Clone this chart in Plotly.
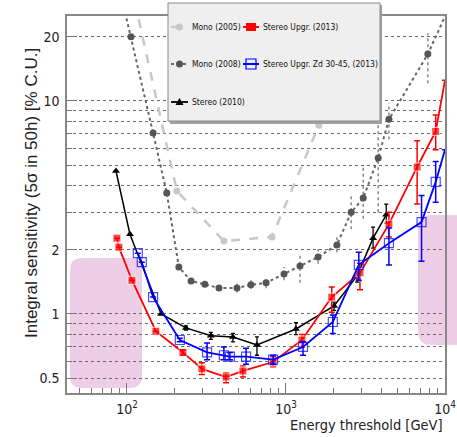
import plotly.graph_objects as go

# ---------------- data ----------------
mono05_E = [100, 206, 407, 817, 1610, 2100]
mono05_S = [42.8, 3.78, 2.20, 2.30, 7.7, 13.0]

mono08_E = [90, 106, 146, 178, 212, 253, 309, 379, 492, 602, 750, 972, 1225, 1592, 2090, 2570, 3060, 3800, 4440, 7800, 11600]
mono08_S = [33.5, 20, 7.07, 3.70, 1.66, 1.43, 1.38, 1.325, 1.325, 1.37, 1.40, 1.54, 1.68, 1.85, 2.11, 3.0, 3.5, 5.4, 8.2, 16.6, 31.8]
mono08_lo = [None, None, None, None, None, None, None, None, 1.26, 1.31, 1.32, 1.44, 1.40, 1.72, 1.95, 2.5, 2.8, 3.0, 6.6, 12.1, None]
mono08_hi = [None, None, None, None, None, None, None, None, 1.40, 1.44, 1.50, 1.66, 1.93, 2.02, 2.30, 3.7, 4.9, 8.4, 9.8, 20.8, None]

stereo10_E = [85.3, 104.4, 164, 235, 337, 464, 657, 1155, 2005, 2800, 3530, 4270]
stereo10_S = [4.69, 2.37, 1.0, 0.86, 0.79, 0.78, 0.715, 0.85, 1.09, 1.51, 2.27, 2.92]
stereo10_lo = [4.69, 2.37, 1.0, 0.84, 0.76, 0.74, 0.64, 0.80, 1.04, 1.41, 2.04, 2.67]
stereo10_hi = [4.69, 2.37, 1.0, 0.88, 0.82, 0.81, 0.78, 0.91, 1.14, 1.57, 2.56, 3.28]

upgr_E = [86.5, 89, 107.5, 152, 225, 296, 420, 536, 830, 1260, 1940, 2920, 4440, 6680, 8740, 10000]
upgr_S = [2.27, 2.06, 1.44, 0.83, 0.66, 0.552, 0.506, 0.54, 0.595, 0.755, 1.20, 1.56, 2.64, 4.9, 7.2, 12.5]
upgr_lo = [2.27, 2.06, 1.44, 0.83, 0.64, 0.52, 0.475, 0.506, 0.565, 0.70, 1.02, 1.30, 2.30, 3.28, 5.9, 12.5]
upgr_hi = [2.27, 2.06, 1.44, 0.83, 0.68, 0.59, 0.53, 0.57, 0.63, 0.80, 1.34, 1.73, 3.00, 6.5, 8.6, 12.5]

zd_E = [117, 124, 146, 215, 319, 407, 444, 561, 830, 1280, 1970, 2870, 4440, 7120, 8740, 10000]
zd_S = [1.93, 1.75, 1.20, 0.755, 0.66, 0.64, 0.63, 0.63, 0.61, 0.70, 0.917, 1.70, 2.15, 2.70, 4.17, 5.9]
zd_lo = [1.93, 1.75, 1.20, 0.74, 0.61, 0.61, 0.61, 0.58, 0.58, 0.64, 0.81, 1.44, 1.70, 1.77, 3.35, 5.9]
zd_hi = [1.93, 1.75, 1.20, 0.77, 0.73, 0.70, 0.66, 0.69, 0.64, 0.74, 0.99, 1.95, 2.53, 3.60, 5.2, 5.9]

series_names = ["Mono (2005)", "Mono (2008)", "Stereo (2010)", "Stereo Upgr. (2013)", "Stereo Upgr. Zd 30-45, (2013)"]

y_ticks = [0.5, 1, 2, 10, 20]
y_ticktext = ["0.5", "1", "2", "10", "20"]
y_grid_minor = [0.6, 0.7, 0.8, 0.9, 3, 4, 5, 6, 7, 8, 9]
x_ticks = [100, 1000, 10000]
x_ticktext = ["10<sup>2</sup>", "10<sup>3</sup>", "10<sup>4</sup>"]
x_minor = [m * d for d in (10, 100, 1000) for m in range(2, 10)]

FONT = "DejaVu Sans Condensed, Liberation Sans Narrow, Arial Narrow, Liberation Sans, Arial"

C_M05, C_M08, C_M08M, C_ST, C_UP, C_ZD = "#c8c8c8", "#666666", "#555555", "black", "#ff0000", "#0000ff"


def err(S, lo, hi):
    plus = [None if h is None else h - s for s, h in zip(S, hi)]
    minus = [None if l is None else s - l for s, l in zip(S, lo)]
    return plus, minus


fig = go.Figure()

fig.add_trace(go.Scatter(x=mono05_E, y=mono05_S, mode="lines+markers", name=series_names[0],
                         line=dict(color=C_M05, width=2.5, dash="dash"),
                         marker=dict(symbol="circle", size=7, color=C_M05)))

ex, ey = [], []
for e, l, h in zip(mono08_E, mono08_lo, mono08_hi):
    if l is None:
        continue
    ex += [e, e, None]
    ey += [l, h, None]
fig.add_trace(go.Scatter(x=ex, y=ey, mode="lines", hoverinfo="skip",
                         line=dict(color="#888888", width=1.5, dash="dot")))
fig.add_trace(go.Scatter(x=mono08_E, y=mono08_S, mode="lines+markers", name=series_names[1],
                         line=dict(color=C_M08, width=2, dash="dot"),
                         marker=dict(symbol="circle", size=7, color=C_M08M)))

p, m = err(stereo10_S, stereo10_lo, stereo10_hi)
fig.add_trace(go.Scatter(x=stereo10_E, y=stereo10_S, mode="lines+markers", name=series_names[2],
                         line=dict(color=C_ST, width=1.5),
                         marker=dict(symbol="triangle-up", size=7, color=C_ST),
                         error_y=dict(type="data", symmetric=False, array=p, arrayminus=m,
                                      color=C_ST, thickness=1.3, width=2)))

p, m = err(upgr_S, upgr_lo, upgr_hi)
fig.add_trace(go.Scatter(x=upgr_E, y=upgr_S, mode="lines+markers", name=series_names[3],
                         line=dict(color=C_UP, width=1.8),
                         marker=dict(symbol="square", size=[8] * (len(upgr_E) - 1) + [0], color=C_UP),
                         error_y=dict(type="data", symmetric=False, array=p, arrayminus=m,
                                      color=C_UP, thickness=1.5, width=3)))

p, m = err(zd_S, zd_lo, zd_hi)
fig.add_trace(go.Scatter(x=zd_E, y=zd_S, mode="lines+markers", name=series_names[4],
                         line=dict(color=C_ZD, width=1.8),
                         marker=dict(symbol="square-open", size=[9] * (len(zd_E) - 1) + [0],
                                     color=C_ZD, line=dict(width=1.2)),
                         error_y=dict(type="data", symmetric=False, array=p, arrayminus=m,
                                      color=C_ZD, thickness=1.5, width=3)))

# ---------------- layout ----------------
L, R, T, B = 67, 12, 16, 44
W, H = 457, 437
pw, ph = W - L - R, H - T - B


def px(xp):
    return (xp - L) / pw


def py(yp):
    return (H - B - yp) / ph


pink = "rgba(222,165,210,0.55)"


def rounded(x0, y0, x1, y1, r):
    X0, X1 = px(x0), px(x1)
    Y0, Y1 = py(y0), py(y1)
    rx, ry = r / pw, r / ph
    return (f"M {X0+rx},{Y0} L {X1-rx},{Y0} Q {X1},{Y0} {X1},{Y0-ry} "
            f"L {X1},{Y1+ry} Q {X1},{Y1} {X1-rx},{Y1} L {X0+rx},{Y1} "
            f"Q {X0},{Y1} {X0},{Y1+ry} L {X0},{Y0-ry} Q {X0},{Y0} {X0+rx},{Y0} Z")


shapes = [
    dict(type="path", xref="paper", yref="paper", path=rounded(70, 258, 142, 388, 12),
         fillcolor=pink, line=dict(width=0), layer="below"),
    dict(type="path", xref="paper", yref="paper", path=rounded(418, 215, 480, 345, 14),
         fillcolor=pink, line=dict(width=0), layer="below"),
    # legend box shadow and box
    dict(type="rect", xref="paper", yref="paper", x0=px(170), x1=px(382), y0=py(124), y1=py(5),
         fillcolor="#a0a0a0", line=dict(width=0), layer="above"),
    dict(type="rect", xref="paper", yref="paper", x0=px(168), x1=px(380), y0=py(121), y1=py(3),
         fillcolor="#efefef", line=dict(color="#8a8a8a", width=1), layer="above"),
]

annotations = [
    dict(text="Integral sensitivity (5σ in 50h) [% C.U.]", xref="paper", yref="paper",
         x=px(32), y=py(193), textangle=-90, showarrow=False, xanchor="center", yanchor="middle",
         font=dict(family="Liberation Sans, Arial", size=17, color="#222")),
    dict(text="Energy threshold [GeV]", xref="paper", yref="paper",
         x=px(445), y=py(425), showarrow=False, xanchor="right", yanchor="middle",
         font=dict(family=FONT, size=14.5, color="#222")),
]

# ---- hand-built legend (symbol line + marker + label) ----
leg_rows = [27, 64, 102, 27, 64]
leg_cols = [(171, 188, 190), (171, 188, 190), (171, 188, 190), (243, 259, 261), (243, 259, 261)]
leg_line = [dict(color=C_M05, width=2.5, dash="dash"), dict(color=C_M08, width=2, dash="dot"),
            dict(color=C_ST, width=1.8), dict(color=C_UP, width=2), dict(color=C_ZD, width=2)]
leg_marker = ["circle", "circle", "triangle", "square", "square-open"]
leg_mcolor = [C_M05, C_M08M, C_ST, C_UP, C_ZD]

for i, name in enumerate(series_names):
    yy = leg_rows[i]
    x0, x1, xt = leg_cols[i]
    cx = (x0 + x1) / 2
    shapes.append(dict(type="line", xref="paper", yref="paper", x0=px(x0), x1=px(x1), y0=py(yy), y1=py(yy),
                       line=leg_line[i], layer="above"))
    mk, col = leg_marker[i], leg_mcolor[i]
    if mk == "circle":
        r = 3.5
        shapes.append(dict(type="circle", xref="paper", yref="paper", x0=px(cx - r), x1=px(cx + r),
                           y0=py(yy + r), y1=py(yy - r), fillcolor=col, line=dict(width=0), layer="above"))
    elif mk == "triangle":
        path = (f"M {px(cx)},{py(yy - 4)} L {px(cx - 4)},{py(yy + 3)} L {px(cx + 4)},{py(yy + 3)} Z")
        shapes.append(dict(type="path", xref="paper", yref="paper", path=path, fillcolor=col,
                           line=dict(width=0), layer="above"))
    elif mk == "square":
        shapes.append(dict(type="rect", xref="paper", yref="paper", x0=px(cx - 5), x1=px(cx + 5),
                           y0=py(yy + 4), y1=py(yy - 4), fillcolor=col, line=dict(width=0), layer="above"))
    else:
        shapes.append(dict(type="rect", xref="paper", yref="paper", x0=px(cx - 5), x1=px(cx + 5),
                           y0=py(yy + 5), y1=py(yy - 5), fillcolor="rgba(0,0,0,0)",
                           line=dict(color=col, width=1.2), layer="above"))
    annotations.append(dict(text=name, xref="paper", yref="paper", x=px(xt), y=py(yy),
                            showarrow=False, xanchor="left", yanchor="middle",
                            font=dict(family=FONT, size=8.5, color="#111")))

fig.update_layout(
    width=W, height=H,
    margin=dict(l=L, r=R, t=T, b=B, autoexpand=False),
    paper_bgcolor="white", plot_bgcolor="rgba(0,0,0,0)",
    font=dict(family=FONT, color="#222"),
    showlegend=False,
    shapes=shapes,
    annotations=annotations,
    xaxis=dict(type="log", range=[1.623, 4.0], tickvals=x_ticks, ticktext=x_ticktext,
               automargin=False,
               ticks="inside", ticklen=10, tickcolor="#777", tickwidth=1,
               showgrid=False, zeroline=False,
               showline=True, linecolor="#888", linewidth=1.5, mirror=True,
               tickfont=dict(family=FONT, size=14, color="#222"), ticklabelstandoff=2,
               minor=dict(tickmode="array", tickvals=x_minor, ticks="inside", ticklen=5,
                          tickcolor="#777", showgrid=False)),
    yaxis=dict(type="log", range=[-0.371, 1.399], tickvals=y_ticks, ticktext=y_ticktext,
               automargin=False,
               ticks="inside", ticklen=10, tickcolor="#777", tickwidth=1,
               showgrid=True, gridcolor="#6a6a6a", griddash="dot", gridwidth=1, zeroline=False,
               showline=True, linecolor="#888", linewidth=1.5, mirror=True,
               tickfont=dict(family=FONT, size=14, color="#222"), ticklabelstandoff=3,
               minor=dict(tickmode="array", tickvals=y_grid_minor, ticks="inside", ticklen=5,
                          tickcolor="#777", showgrid=True, gridcolor="#6a6a6a", griddash="dot",
                          gridwidth=1)),
)

fig.write_html("out.html")
